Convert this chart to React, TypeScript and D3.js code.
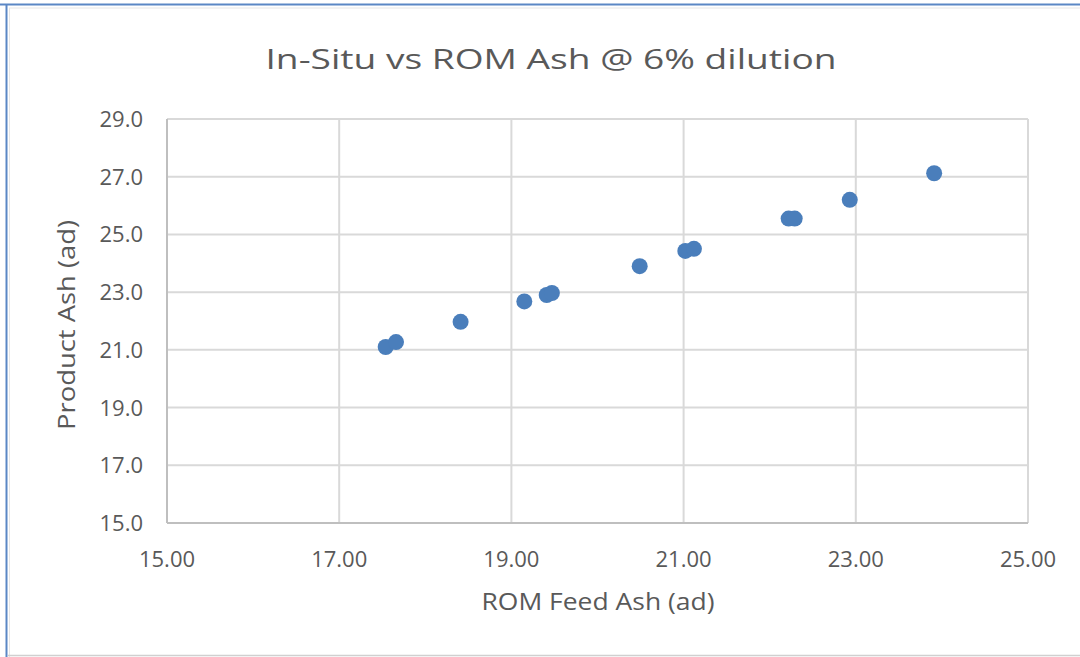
import React from "react";
import * as d3 from "d3";

const romFeedAsh = [17.54, 17.66, 18.41, 19.15, 19.41, 19.47, 20.49, 21.02, 21.12, 22.22, 22.29, 22.93, 23.91];
const productAsh = [21.1, 21.27, 21.97, 22.68, 22.9, 22.97, 23.9, 24.43, 24.5, 25.55, 25.55, 26.2, 27.12];
const xTicks = [15, 17, 19, 21, 23, 25];
const yTicks = [15, 17, 19, 21, 23, 25, 27, 29];

const W = 1080;
const H = 657;
const margin = { left: 167, right: 1080 - 1028, top: 119, bottom: 657 - 523 };
const FONT = "'Open Sans', 'Liberation Sans', Arial, sans-serif";
const TEXT = "#595959";

export default function App() {
  const x = d3.scaleLinear().domain([15, 25]).range([margin.left, W - margin.right]);
  const y = d3.scaleLinear().domain([15, 29]).range([H - margin.bottom, margin.top]);
  const points = romFeedAsh.map((v, i) => ({ x: v, y: productAsh[i] }));

  return (
    <svg width={W} height={H} style={{ position: "absolute", left: 0, top: 0, background: "#fff" }}>
      <rect x={0} y={0} width={W} height={H} fill="#fff" />
      {/* frame */}
      <line x1={0} y1={4.5} x2={W} y2={4.5} stroke="#5b87c5" strokeWidth={2} />
      <line x1={6.5} y1={4} x2={6.5} y2={H} stroke="#5b87c5" strokeWidth={2} />
      <line x1={9} y1={8} x2={W} y2={8} stroke="#e6e6e6" strokeWidth={1} />
      <line x1={9.5} y1={8} x2={9.5} y2={H} stroke="#e6e6e6" strokeWidth={1} />
      <line x1={8} y1={655.5} x2={W} y2={655.5} stroke="#d0d0d0" strokeWidth={1.5} />

      <text x={551} y={69} textAnchor="middle" fontFamily={FONT} fontSize={28} fill={TEXT} textLength={571} lengthAdjust="spacingAndGlyphs">
        In-Situ vs ROM Ash @ 6% dilution
      </text>

      {/* gridlines */}
      {yTicks.map((t) => (
        <line key={"gy" + t} x1={x(15)} x2={x(25)} y1={y(t)} y2={y(t)} stroke="#d9d9d9" strokeWidth={2} />
      ))}
      {xTicks.map((t) => (
        <line key={"gx" + t} x1={x(t)} x2={x(t)} y1={y(15)} y2={y(29)} stroke="#d9d9d9" strokeWidth={2} />
      ))}
      {/* axis lines */}
      <line x1={x(15)} x2={x(25)} y1={y(15)} y2={y(15)} stroke="#bfbfbf" strokeWidth={2} />
      <line x1={x(15)} x2={x(15)} y1={y(15)} y2={y(29)} stroke="#bfbfbf" strokeWidth={2} />

      {/* tick labels */}
      {yTicks.map((t) => (
        <text key={"ly" + t} x={143} y={y(t) + 8} textAnchor="end" fontFamily={FONT} fontSize={22} fill={TEXT}>
          {d3.format(".1f")(t)}
        </text>
      ))}
      {xTicks.map((t) => (
        <text key={"lx" + t} x={x(t)} y={567} textAnchor="middle" fontFamily={FONT} fontSize={22} fill={TEXT}>
          {d3.format(".2f")(t)}
        </text>
      ))}

      {/* axis titles */}
      <text x={598} y={610} textAnchor="middle" fontFamily={FONT} fontSize={23} fill={TEXT} textLength={233} lengthAdjust="spacingAndGlyphs">
        ROM Feed Ash (ad)
      </text>
      <text transform={`translate(75, 325) rotate(-90)`} textAnchor="middle" fontFamily={FONT} fontSize={23} fill={TEXT} textLength={210} lengthAdjust="spacingAndGlyphs">
        Product Ash (ad)
      </text>

      {/* points */}
      {points.map((p, i) => (
        <circle key={i} cx={x(p.x)} cy={y(p.y)} r={8} fill="#4a7ebb" />
      ))}
    </svg>
  );
}
